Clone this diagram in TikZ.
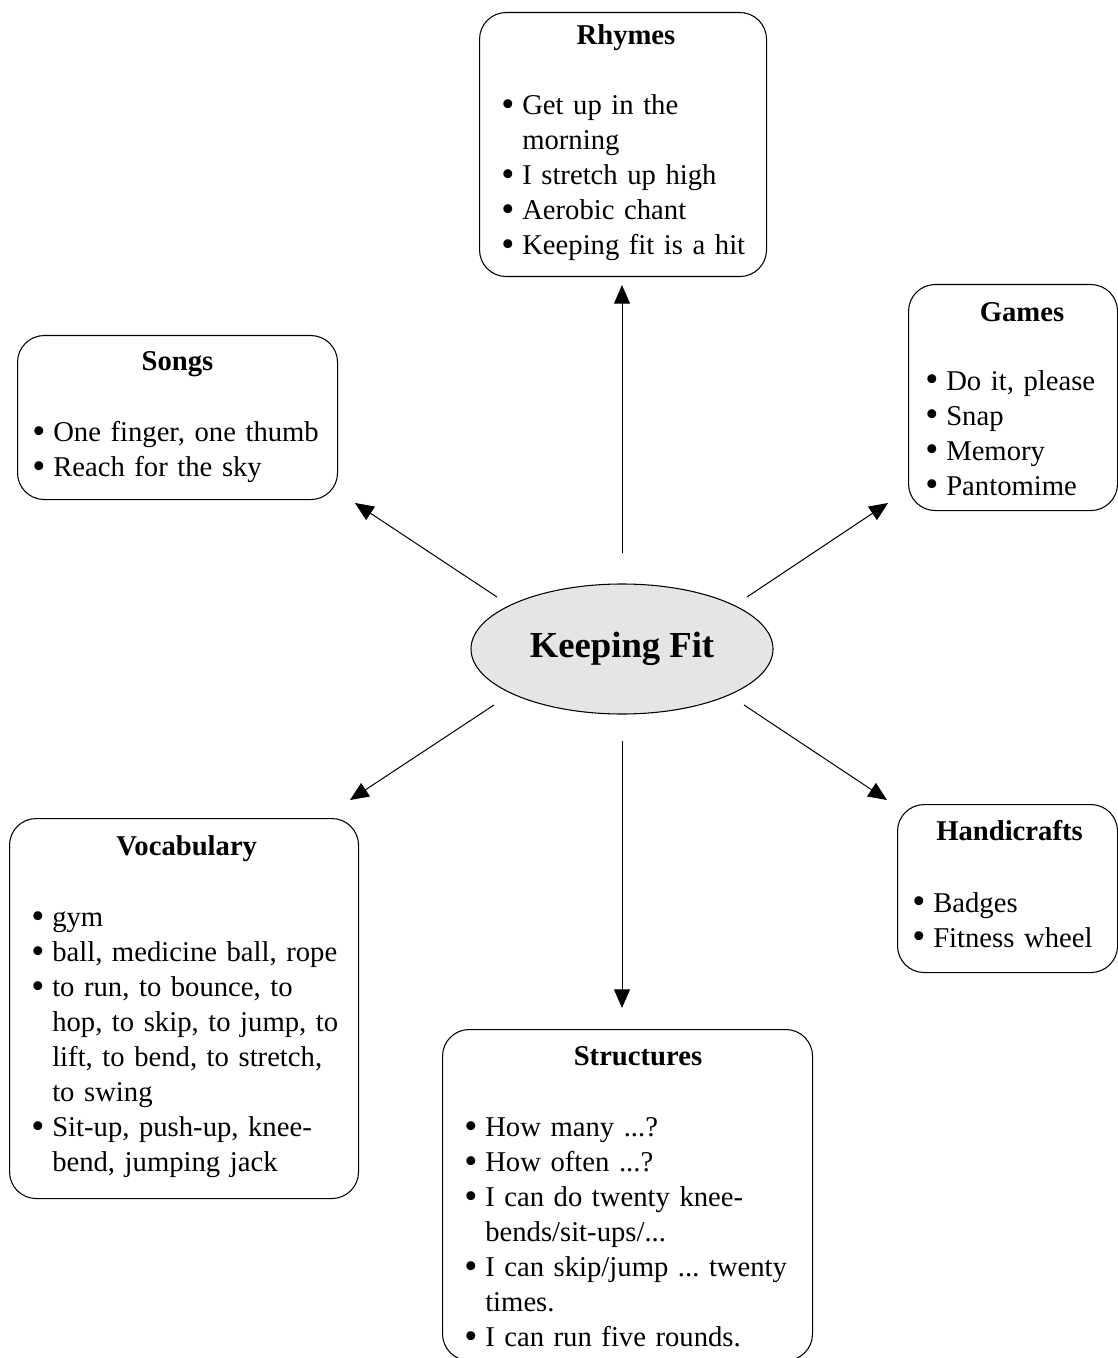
\documentclass[tikz,border=0pt]{standalone}
\usepackage{fontspec}
\setmainfont{Liberation Serif}
\usepackage{tikz}
\usetikzlibrary{shapes.geometric,arrows.meta}

\newcommand{\bul}{\hangindent=15.75pt\hangafter=1\noindent\makebox[15.75pt][l]{\raisebox{-0.06em}{\scalebox{1.3}{\textbullet}}}}
\newcommand{\itm}{\par\bul}

\begin{document}
\begin{tikzpicture}[x=0.75pt, y=-0.75pt,
			topic/.style={draw, line width=0.8pt, rounded corners=20pt, anchor=north west, inner sep=0pt},
			head/.style={anchor=base, inner sep=0pt, font=\fontsize{21.5pt}{26.25pt}\selectfont\bfseries},
			items/.style={anchor=base west, inner sep=0pt, text width=300pt,
				font=\fontsize{21.5pt}{26.25pt}\selectfont\frenchspacing},
			hub/.style={ellipse, draw, line width=0.8pt, fill=black!10, minimum width=226.5pt,
				minimum height=97.5pt, inner sep=0pt, font=\fontsize{27.5pt}{33pt}\selectfont\bfseries},
			arr/.style={line width=0.75pt, -{Triangle[length=14pt,width=12pt]}}
			]
			\useasboundingbox (0,0) rectangle (1117,1358);
			
			% Central topic
			\node[hub] (fit) at (622,649) {Keeping Fit};
			
			% Rhymes (top)
			\node[topic, minimum width=215.25pt, minimum height=198pt] (rhymes) at (479,12) {};
			\node[head] (rhymes-t) at (626,45) {Rhymes};
			\node[items] (rhymes-l) at (501,115) {\bul Get up in the\newline morning
				\itm I stretch up high\itm Aerobic chant\itm Keeping fit is a hit\par};
			
			% Songs (upper left)
			\node[topic, minimum width=240pt, minimum height=123pt] (songs) at (17,335) {};
			\node[head] (songs-t) at (177.5,371) {Songs};
			\node[items] (songs-l) at (32,441.5) {\bul One finger, one thumb\itm Reach for the sky\par};
			
			% Games (upper right)
			\node[topic, minimum width=156.75pt, minimum height=169.5pt] (games) at (908,284) {};
			\node[head] (games-t) at (1022,322) {Games};
			\node[items] (games-l) at (925,390) {\bul Do it, please\itm Snap\itm Memory\itm Pantomime\par};
			
			% Vocabulary (lower left)
			\node[topic, minimum width=261.75pt, minimum height=285pt] (vocab) at (9,818) {};
			\node[head] (vocab-t) at (186.7,855) {Vocabulary};
			\node[items] (vocab-l) at (31,926.7) {\bul gym\itm ball, medicine ball, rope
				\itm to run, to bounce, to\newline hop, to skip, to jump, to\newline lift, to bend, to stretch,\newline to swing
				\itm Sit-up, push-up, knee-\newline bend, jumping jack\par};
			
			% Handicrafts (lower right)
			\node[topic, minimum width=165pt, minimum height=126pt] (crafts) at (897,804) {};
			\node[head] (crafts-t) at (1009.5,840) {Handicrafts};
			\node[items] (crafts-l) at (912,912) {\bul Badges\itm Fitness wheel\par};
			
			% Structures (bottom)
			\node[topic, minimum width=277.5pt, minimum height=248.25pt] (struct) at (442,1029) {};
			\node[head] (struct-t) at (638,1065) {Structures};
			\node[items] (struct-l) at (464,1136.7) {\bul How many ...?\itm How often ...?
				\itm I can do twenty knee-\newline bends/sit-ups/...
				\itm I can skip/jump ... twenty\newline times.\itm I can run five rounds.\par};
			
			% Arrow ends
			\coordinate (fit-n) at (622,553);   \coordinate (rhymes-in) at (622,285);
			\coordinate (fit-nw) at (497,597);  \coordinate (songs-in) at (355,503);
			\coordinate (fit-ne) at (747,597);  \coordinate (games-in) at (888,503);
			\coordinate (fit-sw) at (494,705);  \coordinate (vocab-in) at (350,800);
			\coordinate (fit-s) at (622,741);   \coordinate (struct-in) at (622,1008);
			\coordinate (fit-se) at (744,705);  \coordinate (crafts-in) at (887,800);
			
			% Arrows
			\draw[arr] (fit-n) -- (rhymes-in);
			\draw[arr] (fit-nw) -- (songs-in);
			\draw[arr] (fit-ne) -- (games-in);
			\draw[arr] (fit-sw) -- (vocab-in);
			\draw[arr] (fit-s) -- (struct-in);
			\draw[arr] (fit-se) -- (crafts-in);
			
		\end{tikzpicture}
\end{document}
